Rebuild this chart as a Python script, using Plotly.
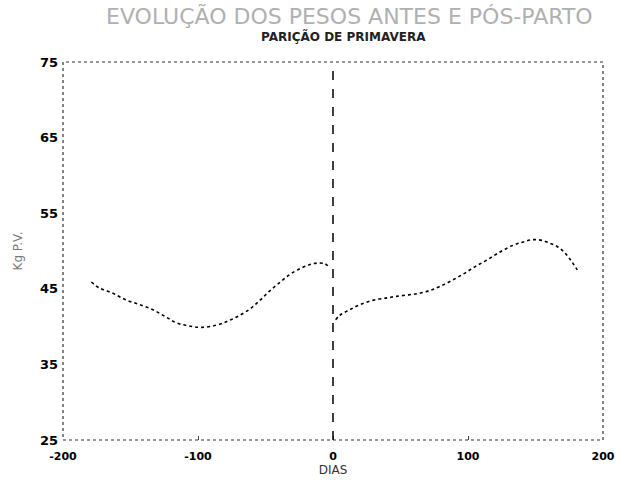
import plotly.graph_objects as go

# Evolução dos pesos antes e pós-parto (parição de primavera)
dias_antes = [-179, -173, -163, -153, -143, -133, -124, -116, -107, -98, -86, -77, -69, -61, -54, -47, -39, -32, -24, -17, -12, -6, -3]
peso_antes = [45.9, 45.1, 44.4, 43.5, 42.9, 42.2, 41.3, 40.5, 40.1, 39.9, 40.2, 40.8, 41.5, 42.4, 43.5, 44.7, 45.9, 46.9, 47.7, 48.2, 48.4, 48.3, 47.9]

dias_pos = [2, 5, 12, 20, 30, 40, 47, 56, 64, 72, 79, 88, 97, 105, 114, 124, 134, 141, 148, 155, 161, 166, 171, 176, 181]
peso_pos = [40.9, 41.5, 42.2, 42.9, 43.5, 43.8, 44.0, 44.2, 44.4, 44.8, 45.3, 46.1, 47.0, 47.9, 48.8, 49.9, 50.8, 51.2, 51.5, 51.4, 51.0, 50.6, 49.9, 48.8, 47.5]

x_ticks = [-200, -100, 0, 100, 200]
y_ticks = [25, 35, 45, 55, 65, 75]

fig = go.Figure()
for dx, py in [(dias_antes, peso_antes), (dias_pos, peso_pos)]:
    fig.add_trace(go.Scatter(
        x=dx, y=py, mode="lines", line_shape="spline",
        line=dict(color="black", width=1.6, dash="dot"),
        showlegend=False, hoverinfo="skip"
    ))

# linha do parto
fig.add_shape(type="line", x0=0, x1=0, y0=25, y1=75, xref="x", yref="y",
              line=dict(color="black", width=1.5, dash="dash"))
# moldura pontilhada
fig.add_shape(type="rect", x0=0, x1=1, y0=0, y1=1, xref="paper", yref="paper",
              line=dict(color="#333333", width=1.2, dash="dot"))

fig.update_layout(
    width=632, height=489,
    paper_bgcolor="white", plot_bgcolor="white",
    margin=dict(l=63, r=29, t=62, b=49),
    font=dict(family="DejaVu Sans", color="black"),
    annotations=[
        dict(text="EVOLUÇÃO DOS PESOS ANTES E PÓS-PARTO", xref="paper", yref="paper",
             x=0.53, y=1.0, yanchor="middle", yshift=46, showarrow=False,
             font=dict(size=22, color="#b0b0b0")),
        dict(text="<b>PARIÇÃO DE PRIMAVERA</b>", xref="paper", yref="paper",
             x=0.52, y=1.0, yanchor="middle", yshift=26, showarrow=False,
             font=dict(size=12, color="#222222")),
    ],
    xaxis=dict(
        range=[-200, 200], tickvals=x_ticks, ticktext=["-200", "-100", "0", "100", "200"],
        showgrid=False, zeroline=False, showline=False,
        ticks="inside", ticklen=4, tickcolor="#444", ticklabelstandoff=8,
        tickfont=dict(size=11, family="DejaVu Sans", color="black", weight="bold"),
        title=dict(text="DIAS", font=dict(size=12, color="#333333"), standoff=2)
    ),
    yaxis=dict(
        range=[25, 75], tickvals=y_ticks,
        showgrid=False, zeroline=False, showline=False,
        ticks="", ticklabelstandoff=4,
        tickfont=dict(size=13, family="DejaVu Sans", color="black", weight="bold"),
        title=dict(text="Kg P.V.", font=dict(size=12, color="#777777"), standoff=14)
    ),
)

# tira a margem padrão do body para o gráfico ocupar a janela toda
fig.write_html("out.html", config={"displayModeBar": False},
               post_script="document.body.style.margin='0';")
